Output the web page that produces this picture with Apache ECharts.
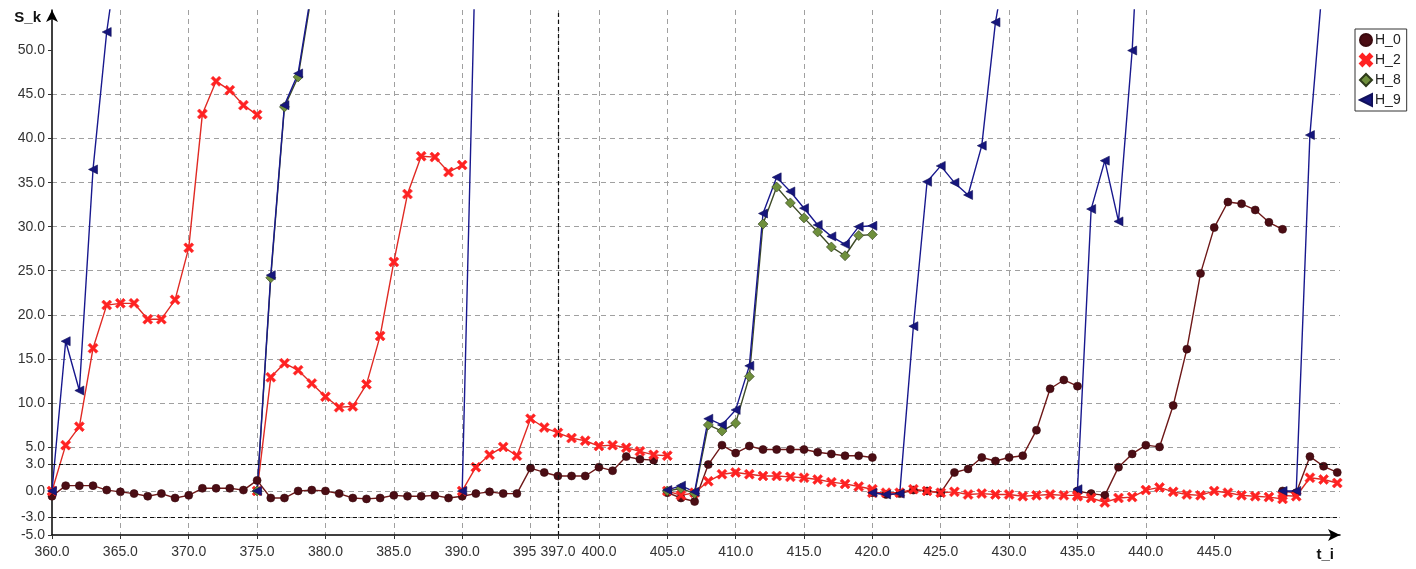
<!DOCTYPE html>
<html>
<head>
<meta charset="utf-8">
<title>S_k over t_i</title>
<script src="https://cdn.jsdelivr.net/npm/echarts@6/dist/echarts.min.js"></script>
<style>
  html, body { margin: 0; padding: 0; background: #ffffff; }
  #chart { width: 1416px; height: 569px; }
</style>
</head>
<body>
<div id="chart"></div>
<script>
// Each series is a list of runs: [first t_i, values at consecutive t_i].
// A new run starts a fresh polyline (no segment joins two runs).
const H_0 = [
  [360, [-0.6, 0.6, 0.6, 0.6, 0.1, -0.1, -0.3, -0.6, -0.3, -0.8, -0.5, 0.3, 0.3, 0.3, 0.1, 1.2,
         -0.8, -0.8, 0.0, 0.1, 0.0, -0.3, -0.8, -0.9, -0.8, -0.5, -0.6, -0.6, -0.5, -0.8, -0.6,
         -0.3, -0.1, -0.3, -0.3, 2.6, 2.1, 1.7, 1.7, 1.7, 2.7, 2.3, 3.9, 3.6, 3.5]],
  [405, [-0.2, -0.8, -1.2, 3.0, 5.2, 4.3, 5.1, 4.7, 4.7, 4.7, 4.7, 4.4, 4.2, 4.0, 4.0, 3.8]],
  [420, [-0.2, -0.4, -0.3, 0.1, 0.0, -0.2, 2.1, 2.5, 3.8, 3.4, 3.8, 4.0, 6.9, 11.6, 12.6, 11.9]],
  [435, [0.0, -0.3, -0.5, 2.7, 4.2, 5.2, 5.0, 9.7, 16.1, 24.7, 29.9, 32.8, 32.6, 31.9, 30.5, 29.7]],
  [450, [0.0, -0.2, 3.9, 2.8, 2.1]]
];
const H_2 = [
  [360, [0.0, 5.2, 7.3, 16.2, 21.1, 21.3, 21.3, 19.5, 19.5, 21.7, 27.6, 42.8, 46.5, 45.5, 43.8, 42.7]],
  [375, [0.0, 12.9, 14.5, 13.7, 12.2, 10.7, 9.5, 9.6, 12.1, 17.6, 26.0, 33.7, 38.0, 37.9, 36.2, 37.0]],
  [390, [0.0, 2.7, 4.1, 5.0, 4.0, 8.2, 7.2, 6.6, 6.0, 5.7, 5.1, 5.2, 4.9, 4.5, 4.1, 4.0]],
  [405, [0.0, -0.5, -0.2, 1.1, 1.9, 2.1, 1.9, 1.7, 1.7, 1.6, 1.5, 1.3, 1.0, 0.8, 0.5, 0.2]],
  [420, [-0.2, -0.2, -0.2, 0.2, 0.0, -0.2, -0.1, -0.4, -0.3, -0.4, -0.4, -0.6, -0.5, -0.4, -0.5, -0.5]],
  [435, [-0.6, -0.8, -1.3, -0.8, -0.7, 0.1, 0.4, -0.1, -0.4, -0.5, 0.0, -0.2, -0.5, -0.6, -0.7, -0.9]],
  [450, [-0.5, -0.6, 1.5, 1.3, 0.9]]
];
const H_8 = [
  [375, [0.0, 24.2, 43.6, 47.0, 56.5]],
  [405, [0.0, 0.3, -0.3, 7.5, 6.8, 7.7, 13.0, 30.3, 34.5, 32.7, 31.0, 29.4, 27.7, 26.7, 29.0, 29.1]]
];
const H_9 = [
  [360, [0.0, 17.0, 11.4, 36.5, 52.1, 63.0]],
  [375, [0.0, 24.5, 43.8, 47.4, 57.0]],
  [390, [0.0, 63.0]],
  [405, [0.1, 0.6, -0.1, 8.2, 7.5, 9.2, 14.2, 31.5, 35.6, 34.0, 32.1, 30.2, 28.9, 28.0, 30.0, 30.1]],
  [420, [-0.2, -0.4, -0.3, 18.7, 35.1, 36.9, 35.0, 33.6, 39.2, 53.2, 62.0]],
  [435, [0.2, 32.0, 37.5, 30.6, 50.0, 80.0]],
  [450, [0.0, 0.0, 40.4, 59.0]]
];

// Axis ticks and reference lines
const xTicks = [360, 365, 370, 375, 380, 385, 390, 395, 397, 400, 405, 410, 415, 420, 425, 430, 435, 440, 445];
const yTicks = [-5, -3, 0, 3, 5, 10, 15, 20, 25, 30, 35, 40, 45, 50];
const yLimits = [3, -3];
const tMark = 397;

// Flatten runs into [t, value] points with a null break between runs
function toPoints(runs) {
  const pts = [];
  runs.forEach(([start, vals], r) => {
    if (r > 0) pts.push([start, null]);
    vals.forEach((v, i) => pts.push([start + i, v]));
  });
  return pts;
}

const CROSS = 'path://M0,2 L2,0 L5,3 L8,0 L10,2 L7,5 L10,8 L8,10 L5,7 L2,10 L0,8 L3,5 Z';
const LEFT_TRI = 'path://M0,5 L10,0 L10,10 Z';
const FONT = '"Liberation Sans", Arial, sans-serif';

const styles = {
  H_0: { line: '#6e1818', fill: '#4b0d14', symbol: 'circle', size: 8, border: '#3a0a0f' },
  H_2: { line: '#e02a24', fill: '#ff2222', symbol: CROSS, size: 10, border: '#ff2222' },
  H_8: { line: '#3f4c28', fill: '#6e8f3c', symbol: 'diamond', size: 10, border: '#2d3a1a' },
  H_9: { line: '#18188e', fill: '#16167c', symbol: LEFT_TRI, size: 9, border: '#10105a' }
};
const seriesRuns = { H_0, H_2, H_8, H_9 };

const series = Object.keys(seriesRuns).map((name) => {
  const s = styles[name];
  return {
    name,
    type: 'line',
    data: toPoints(seriesRuns[name]),
    connectNulls: false,
    symbol: s.symbol,
    symbolSize: s.size,
    showAllSymbol: true,
    clip: true,
    lineStyle: { color: s.line, width: 1.4 },
    itemStyle: { color: s.fill, borderColor: s.border, borderWidth: 0.6 },
    emphasis: { disabled: true },
    animation: false
  };
});

// Dashed limit lines at +/-3 and the marked time 397
series[0].markLine = {
  silent: true,
  symbol: 'none',
  label: { show: false },
  lineStyle: { color: '#111', type: [4, 3], width: 1.2 },
  data: yLimits.map(v => ({ yAxis: v })).concat([{ xAxis: tMark }]),
  animation: false
};

const chart = echarts.init(document.getElementById('chart'), null, { renderer: 'canvas' });
chart.setOption({
  animation: false,
  backgroundColor: '#ffffff',
  textStyle: { fontFamily: FONT },
  grid: { left: 52, right: 76, top: 10, bottom: 34 },
  legend: {
    orient: 'vertical',
    left: 1355,
    top: 29,
    padding: [4, 6, 4, 4],
    itemGap: 6,
    itemWidth: 12,
    itemHeight: 12,
    borderColor: '#333',
    borderWidth: 1,
    textStyle: { fontSize: 14, color: '#222', fontFamily: FONT, padding: [0, 0, 0, -2] },
    data: [
      { name: 'H_0', icon: 'circle' },
      { name: 'H_2', icon: CROSS },
      { name: 'H_8', icon: 'diamond' },
      { name: 'H_9', icon: LEFT_TRI }
    ]
  },
  xAxis: {
    type: 'value',
    min: 360,
    max: 454.2,
    name: 't_i',
    nameLocation: 'end',
    nameGap: -6,
    nameTextStyle: { fontSize: 15, fontWeight: 'bold', color: '#111', align: 'right', verticalAlign: 'top', padding: [12, 0, 0, 0], fontFamily: FONT },
    axisLine: { show: true, onZero: false, symbol: ['none', 'arrow'], symbolSize: [9, 12], lineStyle: { color: '#000', width: 1.5 } },
    axisTick: { show: true, length: 4, customValues: xTicks, lineStyle: { color: '#333' } },
    axisLabel: {
      customValues: xTicks,
      margin: 10,
      fontSize: 14,
      color: '#333',
      fontFamily: FONT,
      formatter: v => (v === tMark ? '{w|' + v.toFixed(1) + '}' : v.toFixed(1)),
      rich: { w: { backgroundColor: '#ffffff', fontSize: 14, color: '#333', fontFamily: FONT, padding: [0, 4, 0, 4] } }
    },
    splitLine: { show: true, showMinLine: false, showMaxLine: false, lineStyle: { color: '#a0a0a0', type: [5, 4], width: 1 } }
  },
  yAxis: {
    type: 'value',
    min: -5,
    max: 54.6,
    name: 'S_k',
    nameLocation: 'end',
    nameGap: -8,
    nameTextStyle: { fontSize: 15, fontWeight: 'bold', color: '#111', align: 'right', verticalAlign: 'middle', padding: [0, 11, 0, 0], fontFamily: FONT },
    axisLine: { show: true, onZero: false, symbol: ['none', 'arrow'], symbolSize: [9, 12], lineStyle: { color: '#000', width: 1.5 } },
    axisTick: { show: true, length: 4, customValues: yTicks, lineStyle: { color: '#333' } },
    axisLabel: {
      customValues: yTicks,
      margin: 7,
      fontSize: 14,
      color: '#333',
      fontFamily: FONT,
      formatter: v => v.toFixed(1)
    },
    splitLine: { show: true, showMinLine: false, showMaxLine: false, lineStyle: { color: '#a0a0a0', type: [5, 4], width: 1 } }
  },
  series
});
</script>
</body>
</html>
